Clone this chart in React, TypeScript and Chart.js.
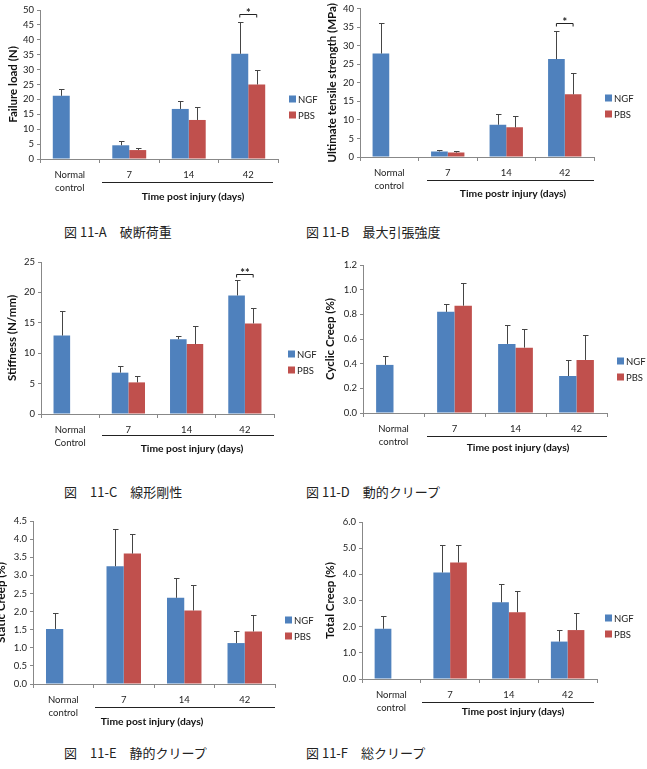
import React, { useEffect, useRef } from "react";
import { Chart, registerables } from "chart.js";

Chart.register(...registerables);

const FONT = "Lato, 'Open Sans', 'Liberation Sans', sans-serif";
const CJK = "'Noto Sans CJK JP', 'Noto Sans CJK SC', sans-serif";
const NGF_COLOR = "#4F81BD";
const PBS_COLOR = "#C0504D";

// Groups on the x axis
const groupsLower = [["Normal", "control"], "7", "14", "42"];
const groupsUpper = [["Normal", "Control"], "7", "14", "42"];
const seriesNames = ["NGF", "PBS"];

// A: failure load (N)
const loadNGF = [21.2, 4.6, 16.8, 35.3];
const loadNGFErr = [2.3, 1.4, 2.7, 10.7];
const loadPBS = [null, 3.0, 13.1, 25.0];
const loadPBSErr = [null, 0.8, 4.4, 5.0];

// B: ultimate tensile strength (MPa)
const utsNGF = [27.9, 1.5, 8.7, 26.4];
const utsNGFErr = [8.3, 0.3, 3.0, 7.7];
const utsPBS = [null, 1.2, 8.0, 16.9];
const utsPBSErr = [null, 0.4, 3.0, 5.7];

// C: stiffness (N/mm)
const stiffNGF = [12.9, 6.8, 12.3, 19.5];
const stiffNGFErr = [4.1, 1.1, 0.5, 2.6];
const stiffPBS = [null, 5.2, 11.5, 14.9];
const stiffPBSErr = [null, 1.0, 3.0, 2.6];

// D: cyclic creep (%)
const cyclicNGF = [0.39, 0.82, 0.56, 0.3];
const cyclicNGFErr = [0.07, 0.06, 0.15, 0.13];
const cyclicPBS = [null, 0.87, 0.53, 0.43];
const cyclicPBSErr = [null, 0.18, 0.15, 0.2];

// E: static creep (%)
const staticNGF = [1.52, 3.25, 2.38, 1.13];
const staticNGFErr = [0.43, 1.03, 0.54, 0.33];
const staticPBS = [null, 3.6, 2.03, 1.45];
const staticPBSErr = [null, 0.55, 0.69, 0.45];

// F: total creep (%)
const totalNGF = [1.92, 4.07, 2.93, 1.43];
const totalNGFErr = [0.48, 1.06, 0.7, 0.44];
const totalPBS = [null, 4.45, 2.55, 1.87];
const totalPBSErr = [null, 0.68, 0.83, 0.66];

type Panel = {
  key: string;
  labels: any[];
  ngf: (number | null)[];
  ngfErr: (number | null)[];
  pbs: (number | null)[];
  pbsErr: (number | null)[];
  yMax: number;
  yStep: number;
  decimals: number;
  yTitle: string;
  xTitle: string;
  mark?: { value: number; text: string };
  // layout (page pixels)
  left: number;
  top: number;
  width: number;
  height: number;
  area: { l: number; t: number; r: number; b: number };
  yTitleX: number;
  xTitleX: number;
  xTitleY: number;
  lineY: number;
  lineX0: number;
  lineX1: number;
  legendX: number;
  legendY: number;
  caption: string;
  captionX: number;
  captionY: number;
};

const panels: Panel[] = [
  {
    key: "A", labels: groupsLower,
    ngf: loadNGF, ngfErr: loadNGFErr, pbs: loadPBS, pbsErr: loadPBSErr,
    yMax: 50, yStep: 5, decimals: 0,
    yTitle: "Failure load (N)", xTitle: "Time post injury (days)",
    mark: { value: 48.6, text: "*" },
    left: 0, top: 0, width: 323, height: 205,
    area: { l: 40, t: 10, r: 278, b: 159 },
    yTitleX: 13, xTitleX: 193, xTitleY: 197, lineY: 182, lineX0: 102, lineX1: 273,
    legendX: 289, legendY: 99,
    caption: "図 11-A　破断荷重", captionX: 64, captionY: 232,
  },
  {
    key: "B", labels: groupsLower,
    ngf: utsNGF, ngfErr: utsNGFErr, pbs: utsPBS, pbsErr: utsPBSErr,
    yMax: 40, yStep: 5, decimals: 0,
    yTitle: "Ultimate tensile strength (MPa)", xTitle: "Time postr injury (days)",
    mark: { value: 36.1, text: "*" },
    left: 323, top: 0, width: 324, height: 205,
    area: { l: 360, t: 8, r: 594, b: 157 },
    yTitleX: 332, xTitleX: 513, xTitleY: 194, lineY: 180, lineX0: 427, lineX1: 594,
    legendX: 605, legendY: 98,
    caption: "図 11-B　最大引張強度", captionX: 306, captionY: 232,
  },
  {
    key: "C", labels: groupsUpper,
    ngf: stiffNGF, ngfErr: stiffNGFErr, pbs: stiffPBS, pbsErr: stiffPBSErr,
    yMax: 25, yStep: 5, decimals: 0,
    yTitle: "Stiffness (N/mm)", xTitle: "Time post injury (days)",
    mark: { value: 23.0, text: "**" },
    left: 0, top: 250, width: 323, height: 210,
    area: { l: 41, t: 262, r: 274, b: 414 },
    yTitleX: 12, xTitleX: 192, xTitleY: 449, lineY: 435, lineX0: 102, lineX1: 274,
    legendX: 288, legendY: 354,
    caption: "図　11-C　線形剛性", captionX: 64, captionY: 492,
  },
  {
    key: "D", labels: groupsLower,
    ngf: cyclicNGF, ngfErr: cyclicNGFErr, pbs: cyclicPBS, pbsErr: cyclicPBSErr,
    yMax: 1.2, yStep: 0.2, decimals: 1,
    yTitle: "Cyclic Creep (%)", xTitle: "Time post injury (days)",
    left: 323, top: 250, width: 324, height: 210,
    area: { l: 363, t: 265, r: 607, b: 413 },
    yTitleX: 330, xTitleX: 518, xTitleY: 448, lineY: 436, lineX0: 427, lineX1: 607,
    legendX: 617, legendY: 361,
    caption: "図 11-D　動的クリープ", captionX: 306, captionY: 492,
  },
  {
    key: "E", labels: groupsLower,
    ngf: staticNGF, ngfErr: staticNGFErr, pbs: staticPBS, pbsErr: staticPBSErr,
    yMax: 4.5, yStep: 0.5, decimals: 1,
    yTitle: "Static Creep (%)", xTitle: "Time post injury (days)",
    left: 0, top: 505, width: 323, height: 225,
    area: { l: 33, t: 521, r: 275, b: 684 },
    yTitleX: 1, xTitleX: 152, xTitleY: 722, lineY: 707, lineX0: 95, lineX1: 275,
    legendX: 285, legendY: 620,
    caption: "図　11-E　静的クリープ", captionX: 64, captionY: 753,
  },
  {
    key: "F", labels: groupsLower,
    ngf: totalNGF, ngfErr: totalNGFErr, pbs: totalPBS, pbsErr: totalPBSErr,
    yMax: 6, yStep: 1, decimals: 1,
    yTitle: "Total Creep (%)", xTitle: "Time post injury (days)",
    left: 323, top: 505, width: 324, height: 220,
    area: { l: 362, t: 522, r: 597, b: 679 },
    yTitleX: 330, xTitleX: 513, xTitleY: 712, lineY: 702, lineX0: 422, lineX1: 594,
    legendX: 605, legendY: 618,
    caption: "図 11-F　総クリープ", captionX: 306, captionY: 753,
  },
];

function decorPlugin(p: Panel) {
  return {
    id: "decor" + p.key,
    afterDatasetsDraw(chart: any) {
      const ctx = chart.ctx;
      const ys = chart.scales.y;
      const errs = [p.ngfErr, p.pbsErr];
      ctx.save();
      ctx.strokeStyle = "#454545";
      ctx.lineWidth = 1;
      errs.forEach((list, di) => {
        const meta = chart.getDatasetMeta(di);
        const vals = chart.data.datasets[di].data;
        meta.data.forEach((bar: any, j: number) => {
          const v = vals[j];
          const e = list[j];
          if (v == null || e == null) return;
          const x = Math.round(bar.x) + 0.5;
          const y0 = ys.getPixelForValue(v);
          const y1 = Math.round(ys.getPixelForValue(v + e)) + 0.5;
          ctx.beginPath();
          ctx.moveTo(x, y0);
          ctx.lineTo(x, y1);
          ctx.moveTo(x - 2.5, y1);
          ctx.lineTo(x + 3, y1);
          ctx.stroke();
        });
      });
      // significance bracket over the last group
      if (p.mark) {
        const a = chart.getDatasetMeta(0).data[3];
        const b = chart.getDatasetMeta(1).data[3];
        const yb = Math.round(ys.getPixelForValue(p.mark.value)) + 0.5;
        ctx.strokeStyle = "#222";
        ctx.beginPath();
        ctx.moveTo(a.x, yb + 3);
        ctx.lineTo(a.x, yb);
        ctx.lineTo(b.x, yb);
        ctx.lineTo(b.x, yb + 3);
        ctx.stroke();
        ctx.fillStyle = "#222";
        ctx.font = `bold 11px ${FONT}`;
        ctx.textAlign = "center";
        ctx.textBaseline = "alphabetic";
        ctx.fillText(p.mark.text, (a.x + b.x) / 2, yb + 2);
      }
      ctx.restore();
    },
    afterDraw(chart: any) {
      const ctx = chart.ctx;
      const ox = p.left;
      const oy = p.top;
      const area = chart.chartArea;
      ctx.save();
      // y title
      ctx.fillStyle = "#111";
      ctx.font = `bold 11.5px ${FONT}`;
      ctx.textAlign = "center";
      ctx.textBaseline = "middle";
      ctx.translate(p.yTitleX - ox, (area.top + area.bottom) / 2);
      ctx.rotate(-Math.PI / 2);
      ctx.fillText(p.yTitle, 0, 0);
      ctx.setTransform(1, 0, 0, 1, 0, 0);
      // x title and the rule under the post-injury groups
      ctx.font = `bold 10.3px ${FONT}`;
      ctx.fillText(p.xTitle, p.xTitleX - ox, p.xTitleY - oy);
      ctx.strokeStyle = "#222";
      ctx.lineWidth = 1;
      ctx.beginPath();
      ctx.moveTo(p.lineX0 - ox, Math.round(p.lineY - oy) + 0.5);
      ctx.lineTo(p.lineX1 - ox, Math.round(p.lineY - oy) + 0.5);
      ctx.stroke();
      // legend
      ctx.font = `9.5px ${FONT}`;
      ctx.textAlign = "left";
      [NGF_COLOR, PBS_COLOR].forEach((c, i) => {
        const ly = p.legendY - oy + i * 16;
        ctx.fillStyle = c;
        ctx.fillRect(p.legendX - ox, ly - 3.5, 7, 7);
        ctx.fillStyle = "#222";
        ctx.fillText(seriesNames[i], p.legendX - ox + 9, ly + 0.5);
      });
      ctx.restore();
    },
  };
}

function ChartPanel({ p }: { p: Panel }) {
  const ref = useRef<HTMLCanvasElement | null>(null);
  useEffect(() => {
    if (!ref.current) return;
    const yWidth = p.area.l - p.left;
    const xHeight = p.top + p.height - p.area.b;
    const chart = new Chart(ref.current, {
      type: "bar",
      data: {
        labels: p.labels,
        datasets: [
          { label: seriesNames[0], data: p.ngf, backgroundColor: NGF_COLOR, borderWidth: 0 },
          { label: seriesNames[1], data: p.pbs, backgroundColor: PBS_COLOR, borderWidth: 0 },
        ],
      },
      options: {
        responsive: false,
        animation: false,
        devicePixelRatio: 1,
        layout: {
          padding: { left: 0, top: p.area.t - p.top, right: p.left + p.width - p.area.r, bottom: 0 },
        },
        plugins: { legend: { display: false }, tooltip: { enabled: false } },
        datasets: { bar: { categoryPercentage: 0.57, barPercentage: 1 } },
        scales: {
          x: {
            grid: { display: true, drawOnChartArea: false, drawTicks: true, tickLength: 4, color: "#888", offset: true },
            border: { display: true, color: "#888", width: 1 },
            ticks: { color: "#222", font: { family: FONT, size: 9.5, lineHeight: 1.35 }, padding: 6, maxRotation: 0, autoSkip: false },
            afterFit: (s: any) => { s.height = xHeight; },
          },
          y: {
            min: 0,
            max: p.yMax,
            grid: { display: true, drawOnChartArea: false, drawTicks: true, tickLength: 3, color: "#888" },
            border: { display: true, color: "#888", width: 1 },
            ticks: {
              stepSize: p.yStep,
              color: "#222",
              font: { family: FONT, size: 9.5 },
              padding: 3,
              callback: (v: any) => Number(v).toFixed(p.decimals),
            },
            afterFit: (s: any) => { s.width = yWidth; },
          },
        },
      },
      plugins: [decorPlugin(p)],
    } as any);
    return () => chart.destroy();
  }, [p]);
  return (
    <canvas
      ref={ref}
      width={p.width}
      height={p.height}
      style={{ position: "absolute", left: p.left, top: p.top, width: p.width, height: p.height }}
    />
  );
}

export default function App() {
  return (
    <div style={{ position: "absolute", left: 0, top: 0, width: 647, height: 769, background: "#fff", overflow: "hidden" }}>
      {panels.map((p) => (
        <ChartPanel key={p.key} p={p} />
      ))}
      {panels.map((p) => (
        <div
          key={"cap" + p.key}
          style={{
            position: "absolute",
            left: p.captionX,
            top: p.captionY - 9,
            height: 18,
            lineHeight: "18px",
            fontFamily: CJK,
            fontSize: 13,
            color: "#222",
            whiteSpace: "pre",
          }}
        >
          {p.caption}
        </div>
      ))}
    </div>
  );
}
